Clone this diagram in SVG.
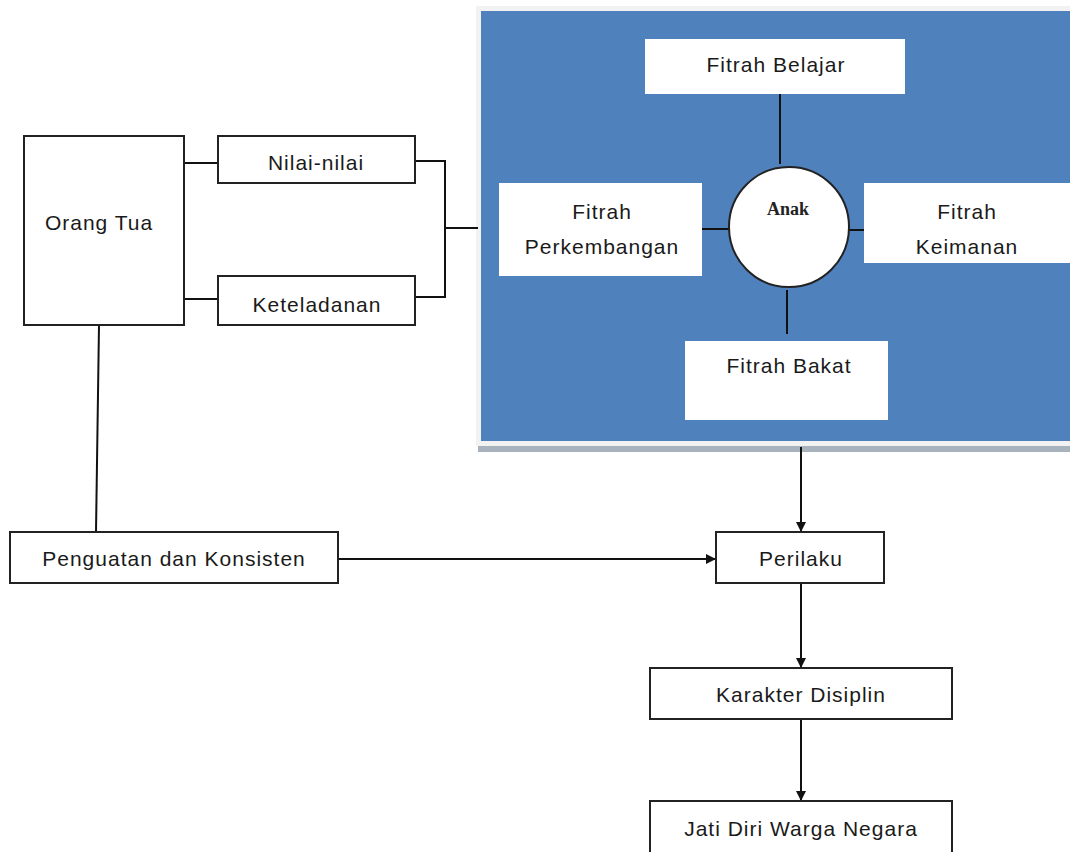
<svg xmlns="http://www.w3.org/2000/svg" width="1070" height="852" viewBox="0 0 1070 852">
<style>
.box{fill:#fff;stroke:#222;stroke-width:2}
.wbox{fill:#fff;stroke:none}
.t{font-family:"Liberation Sans",Arial,sans-serif;font-size:21px;letter-spacing:1px;fill:#1a1a1a;text-anchor:middle}
.ln{stroke:#111;stroke-width:2;fill:none}
</style>
<defs>
<marker id="ah" markerWidth="10" markerHeight="10" refX="9" refY="5" orient="auto" markerUnits="userSpaceOnUse">
<path d="M0,0 L10,5 L0,10 Z" fill="#111"/>
</marker>
</defs>
<rect width="1070" height="852" fill="#fff"/>
<g id="panel">
<rect x="476" y="6" width="594" height="440" fill="#f2f2f2"/>
<rect x="478" y="446" width="592" height="6" fill="#a9b3bd"/>
<rect x="481" y="11" width="589" height="430" fill="#4f81bd"/>
</g>
<g id="connectors">
<line class="ln" x1="780" y1="94" x2="780" y2="164"/>
<line class="ln" x1="702" y1="229" x2="729" y2="229"/>
<line class="ln" x1="840" y1="230" x2="864" y2="230"/>
<line class="ln" x1="787" y1="290" x2="787" y2="334"/>
<line class="ln" x1="184" y1="163" x2="218" y2="163"/>
<line class="ln" x1="184" y1="299" x2="218" y2="299"/>
<polyline class="ln" points="413,161 445,161 445,297 413,297"/>
<line class="ln" x1="445" y1="228" x2="478" y2="228"/>
<line class="ln" x1="99" y1="325" x2="96" y2="532"/>
<line class="ln" x1="338" y1="559" x2="715" y2="559" marker-end="url(#ah)"/>
<line class="ln" x1="801" y1="447" x2="801" y2="531" marker-end="url(#ah)"/>
<line class="ln" x1="801" y1="583" x2="801" y2="667" marker-end="url(#ah)"/>
<line class="ln" x1="801" y1="719" x2="801" y2="800" marker-end="url(#ah)"/>
</g>
<g id="fitrah-belajar"><rect class="wbox" x="645" y="39" width="260" height="55"/><text class="t" x="776" y="72">Fitrah Belajar</text></g>
<g id="anak"><circle cx="789" cy="227" r="60" fill="#fff" stroke="#222" stroke-width="2"/><text x="788" y="215" font-family="Liberation Serif,serif" font-size="18" font-weight="bold" fill="#222" text-anchor="middle">Anak</text></g>
<g id="fitrah-perkembangan"><rect class="wbox" x="499" y="183" width="203" height="93"/><text class="t" x="602" y="219">Fitrah</text><text class="t" x="602" y="254">Perkembangan</text></g>
<g id="fitrah-keimanan"><rect class="wbox" x="864" y="183" width="206" height="80"/><text class="t" x="967" y="219">Fitrah</text><text class="t" x="967" y="254">Keimanan</text></g>
<g id="fitrah-bakat"><rect class="wbox" x="685" y="341" width="203" height="79"/><text class="t" x="789" y="373">Fitrah Bakat</text></g>
<g id="orang-tua"><rect class="box" x="24" y="136" width="160" height="189"/><text class="t" x="99" y="230">Orang Tua</text></g>
<g id="nilai-nilai"><rect class="box" x="218" y="136" width="197" height="47"/><text class="t" x="316" y="170">Nilai-nilai</text></g>
<g id="keteladanan"><rect class="box" x="218" y="276" width="197" height="49"/><text class="t" x="317" y="312">Keteladanan</text></g>
<g id="penguatan"><rect class="box" x="10" y="532" width="328" height="51"/><text class="t" x="174" y="566">Penguatan dan Konsisten</text></g>
<g id="perilaku"><rect class="box" x="716" y="532" width="168" height="51"/><text class="t" x="801" y="566">Perilaku</text></g>
<g id="karakter"><rect class="box" x="650" y="668" width="302" height="51"/><text class="t" x="801" y="702">Karakter Disiplin</text></g>
<g id="jati-diri"><rect class="box" x="650" y="801" width="302" height="60"/><text class="t" x="801" y="836">Jati Diri Warga Negara</text></g>
</svg>
